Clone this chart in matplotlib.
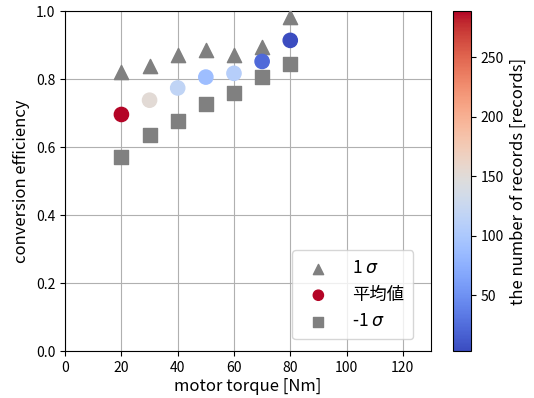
import matplotlib

matplotlib.use("Agg")
import matplotlib.pyplot as plt
import numpy as np

plt.rcParams["font.family"] = ["Noto Sans CJK JP", "DejaVu Sans"]
plt.rcParams["axes.unicode_minus"] = False

torque = [20, 30, 40, 50, 60, 70, 80]
eff_plus = [0.820, 0.840, 0.870, 0.886, 0.872, 0.895, 0.982]
eff_mean = [0.696, 0.738, 0.774, 0.806, 0.817, 0.852, 0.914]
eff_minus = [0.571, 0.635, 0.677, 0.726, 0.760, 0.806, 0.845]
records = [289, 152, 117, 89, 109, 23, 3]

fig = plt.figure(figsize=(5.34, 3.98), dpi=100)
ax = fig.add_axes([0.122, 0.118, 0.685, 0.854])
cax = fig.add_axes([0.848, 0.118, 0.034, 0.854])

ax.scatter(torque, eff_plus, marker="^", s=105, color="gray", label="1 $\\sigma$", zorder=3)
sc = ax.scatter(torque, eff_mean, marker="o", s=105, c=records, cmap="coolwarm",
                vmin=min(records), vmax=max(records), label="平均値", zorder=3)
ax.scatter(torque, eff_minus, marker="s", s=105, color="gray", label="-1 $\\sigma$", zorder=3)

ax.set_xlim(0, 130)
ax.set_ylim(0.0, 1.0)
ax.set_xticks(np.arange(0, 121, 20))
ax.set_yticks(np.arange(0, 1.01, 0.2))
ax.grid(True, color="#b0b0b0", linewidth=0.8)
ax.set_axisbelow(True)
ax.set_xlabel("motor torque [Nm]", fontsize=12, labelpad=2)
ax.set_ylabel("conversion efficiency", fontsize=12)
ax.tick_params(labelsize=10)
ax.legend(loc="lower right", bbox_to_anchor=(0.951, 0.035), borderaxespad=0,
          fontsize=12.5, markerscale=0.72, borderpad=0.5, handletextpad=0.95)

cb = fig.colorbar(sc, cax=cax)
cb.set_ticks([50, 100, 150, 200, 250])
cb.set_label("the number of records [records]", fontsize=12)
cb.ax.tick_params(labelsize=10)

fig.savefig("out.png", dpi=100)
